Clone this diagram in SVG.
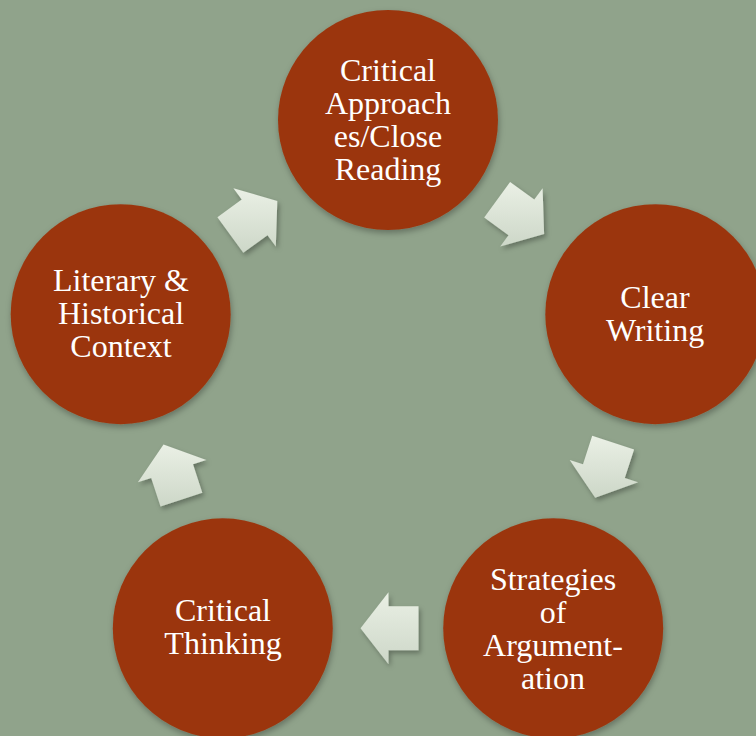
<svg xmlns="http://www.w3.org/2000/svg" width="756" height="736" viewBox="0 0 756 736">
<defs>
<linearGradient id="ag" x1="0" y1="0" x2="0" y2="1">
<stop offset="0" stop-color="#eaf0e5"/>
<stop offset="1" stop-color="#cdd7c8"/>
</linearGradient>
<filter id="cs" x="-20%" y="-20%" width="140%" height="140%">
<feDropShadow dx="1" dy="3" stdDeviation="3" flood-color="#000" flood-opacity="0.3"/>
</filter>
<filter id="as" x="-30%" y="-30%" width="160%" height="160%">
<feDropShadow dx="2" dy="3" stdDeviation="2.5" flood-color="#000" flood-opacity="0.3"/>
</filter>
</defs>
<style>
.node circle{fill:#9b360d;filter:url(#cs)}
.node text{font-family:"Liberation Serif","Times New Roman",serif;font-size:32px;fill:#ffffff;text-anchor:middle}
.arrow{fill:url(#ag);filter:url(#as)}
</style>
<rect width="756" height="736" fill="#90a38b"/>
<g id="connectors">
<polygon class="arrow" points="510.1,182 534.3,199.6 542.6,188.3 544.1,233.9 500.2,246.5 508.5,235.2 484.2,217.6"/>
<polygon class="arrow" points="634.1,449.4 624.8,477.9 638.1,482.2 595.2,497.7 569.7,460 583,464.3 592.2,435.8"/>
<polygon class="arrow" points="418.5,650.3 388.5,650.3 388.5,664.3 360.5,628.3 388.5,592.3 388.5,606.3 418.5,606.3"/>
<polygon class="arrow" points="160.5,506.4 151.2,477.9 137.9,482.2 163.5,444.5 206.3,460 193,464.3 202.3,492.8"/>
<polygon class="arrow" points="217.4,217.2 241.7,199.6 233.4,188.3 277.3,200.9 275.8,246.5 267.5,235.2 243.3,252.8"/>
</g>
<g id="node-critical-approaches" class="node">
<circle cx="388" cy="120" r="110"/>
<text x="388" y="81">Critical</text>
<text x="388" y="114">Approach</text>
<text x="388" y="147">es/Close</text>
<text x="388" y="180">Reading</text>
</g>
<g id="node-clear-writing" class="node">
<circle cx="655.3" cy="314.2" r="110"/>
<text x="655" y="308">Clear</text>
<text x="655" y="341">Writing</text>
</g>
<g id="node-strategies" class="node">
<circle cx="553.2" cy="628.3" r="110"/>
<text x="553" y="590">Strategies</text>
<text x="553" y="623">of</text>
<text x="553" y="656">Argument-</text>
<text x="553" y="689">ation</text>
</g>
<g id="node-critical-thinking" class="node">
<circle cx="222.8" cy="628.3" r="110"/>
<text x="223" y="621">Critical</text>
<text x="223" y="654">Thinking</text>
</g>
<g id="node-literary-context" class="node">
<circle cx="120.7" cy="314.2" r="110"/>
<text x="121" y="291">Literary &amp;</text>
<text x="121" y="324">Historical</text>
<text x="121" y="357">Context</text>
</g>
</svg>
